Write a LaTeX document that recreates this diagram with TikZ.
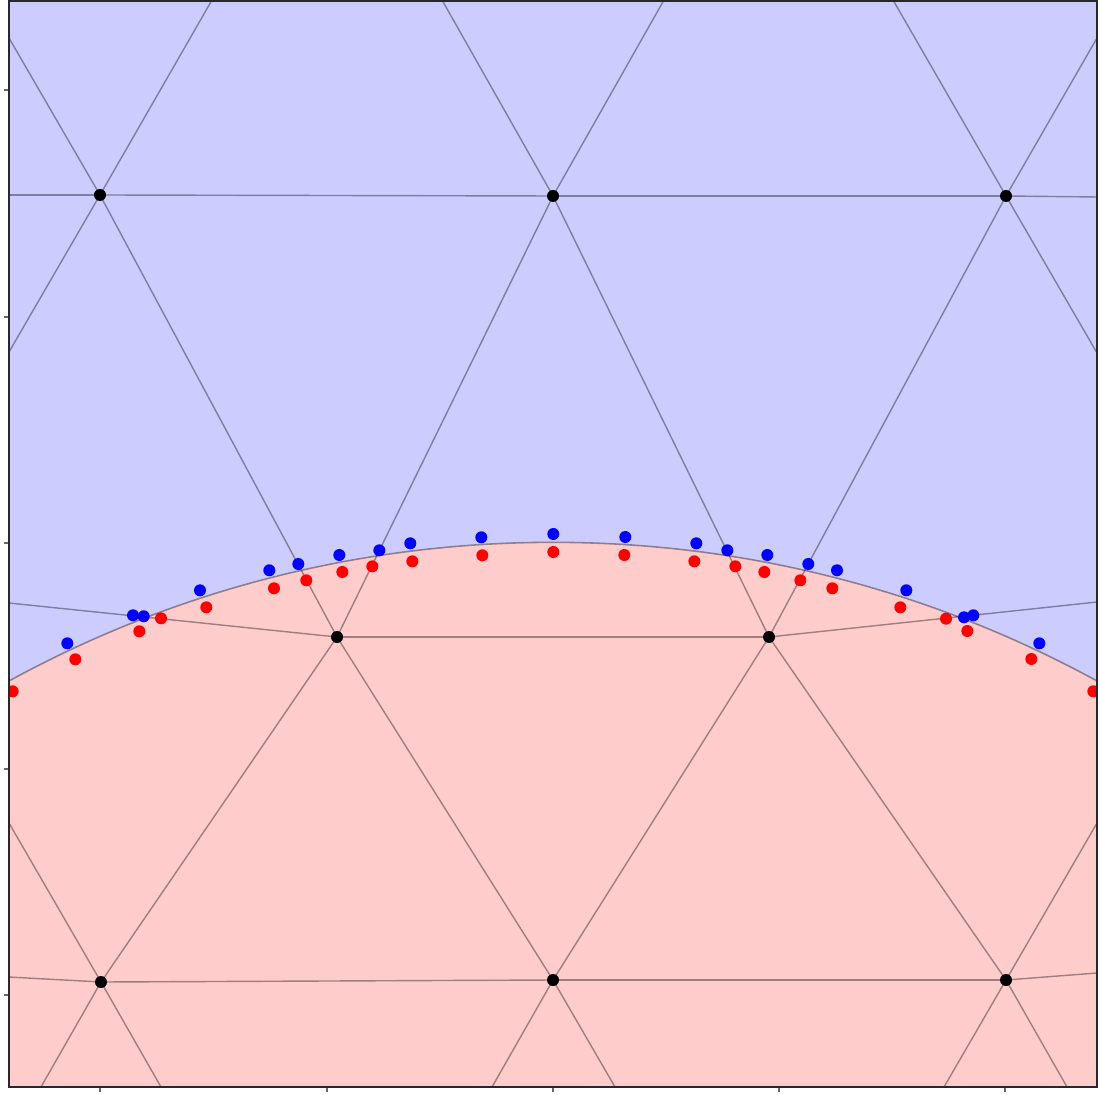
\documentclass[tikz,border=0pt]{standalone}
\definecolor{bluefill}{RGB}{204,204,255}
\definecolor{redfill}{RGB}{255,204,204}
\definecolor{framecol}{RGB}{40,40,40}
\tikzset{
  meshedge/.style={draw=black, draw opacity=0.38, line width=0.4pt},
  iface/.style={draw=black, draw opacity=0.38, line width=0.45pt},
  bdot/.style={circle, fill={rgb,255:red,0;green,0;blue,255}, inner sep=0pt, minimum size=0.12cm},
  rdot/.style={circle, fill={rgb,255:red,255;green,0;blue,0}, inner sep=0pt, minimum size=0.12cm},
  vtx/.style={circle, fill=black, inner sep=0pt, minimum size=0.12cm},
  tickmark/.style={draw=framecol, draw opacity=0.7, line width=0.35pt},
  frame/.style={draw=framecol, line width=0.6pt}
}
\begin{document}
\begin{tikzpicture}[x=0.01cm,y=-0.01cm]
\useasboundingbox (0,0) rectangle (1098,1095);
\coordinate (axTL) at (9,0.5);
\coordinate (axBR) at (1097,1087);
\begin{scope}
\clip (axTL) rectangle (axBR);
\fill[bluefill] (axTL) rectangle (axBR);
\fill[redfill] (553,1677) circle[radius=11.34cm];
\draw[iface] (553,1677) circle[radius=11.34cm];
% mesh vertices
\coordinate (A1) at (100,195);
\coordinate (A2) at (553,196);
\coordinate (A3) at (1006,196);
\coordinate (M1) at (337,637);
\coordinate (M2) at (769,637);
\coordinate (B1) at (101,982);
\coordinate (B2) at (553,980);
\coordinate (B3) at (1006,980);
% border ends
\coordinate (t1) at (212,0);
\coordinate (t2l) at (442,0);
\coordinate (t2r) at (664,0);
\coordinate (t3l) at (893,0);
\coordinate (l1u) at (9,38);
\coordinate (l1h) at (9,195);
\coordinate (l1d) at (9,352);
\coordinate (lm) at (9,603);
\coordinate (lb1u) at (9,823);
\coordinate (lb1h) at (9,977);
\coordinate (r3u) at (1097,38);
\coordinate (r3h) at (1097,197);
\coordinate (r3d) at (1097,353);
\coordinate (rm) at (1097,602);
\coordinate (rb3u) at (1097,823);
\coordinate (rb3h) at (1097,973);
\coordinate (bb1l) at (41,1087);
\coordinate (bb1r) at (161,1087);
\coordinate (bb2l) at (492,1087);
\coordinate (bb2r) at (615,1087);
\coordinate (bb3l) at (944,1087);
\coordinate (bb3r) at (1067,1087);
% mesh edges
\draw[meshedge] (A1) -- (t1);
\draw[meshedge] (A1) -- (l1u);
\draw[meshedge] (A1) -- (l1h);
\draw[meshedge] (A1) -- (l1d);
\draw[meshedge] (A1) -- (A2);
\draw[meshedge] (A1) -- (M1);
\draw[meshedge] (A2) -- (t2l);
\draw[meshedge] (A2) -- (t2r);
\draw[meshedge] (A2) -- (A3);
\draw[meshedge] (A2) -- (M1);
\draw[meshedge] (A2) -- (M2);
\draw[meshedge] (A3) -- (t3l);
\draw[meshedge] (A3) -- (r3u);
\draw[meshedge] (A3) -- (r3h);
\draw[meshedge] (A3) -- (r3d);
\draw[meshedge] (A3) -- (M2);
\draw[meshedge] (M1) -- (lm);
\draw[meshedge] (M1) -- (M2);
\draw[meshedge] (M1) -- (B1);
\draw[meshedge] (M1) -- (B2);
\draw[meshedge] (M2) -- (rm);
\draw[meshedge] (M2) -- (B2);
\draw[meshedge] (M2) -- (B3);
\draw[meshedge] (B1) -- (lb1u);
\draw[meshedge] (B1) -- (lb1h);
\draw[meshedge] (B1) -- (B2);
\draw[meshedge] (B1) -- (bb1l);
\draw[meshedge] (B1) -- (bb1r);
\draw[meshedge] (B2) -- (B3);
\draw[meshedge] (B2) -- (bb2l);
\draw[meshedge] (B2) -- (bb2r);
\draw[meshedge] (B3) -- (rb3u);
\draw[meshedge] (B3) -- (rb3h);
\draw[meshedge] (B3) -- (bb3l);
\draw[meshedge] (B3) -- (bb3r);
% blue points
\foreach \px/\py [count=\i] in {67.3/643.3, 133/615.3, 143.7/616.3, 200/590.3, 269.3/570.3, 298.3/564, 339.3/555, 379.3/550.3, 410.3/543.3, 481.3/537.3, 553.3/534, 625.3/537, 696.3/543.3, 727.3/550.3, 767.3/555, 808.3/564, 837/570.3, 906.3/590.3, 964/617.3, 973.3/615.3, 1039.3/643.3}
  \node[bdot] (b\i) at (\px,\py) {};
% red points
\foreach \px/\py [count=\i] in {12.7/691.3, 75.3/659.3, 139.3/631.3, 161/618.3, 206.3/607.3, 274/588.3, 306.3/580.3, 342.3/572, 372.3/566.3, 412.3/561.3, 482.3/555.3, 553.3/552, 624.3/555, 694.3/561.3, 735.3/566.3, 764.3/572, 800.3/580.3, 832.3/588.3, 900.3/607.3, 946/618.7, 967.3/631, 1031.3/659, 1093.3/691.3}
  \node[rdot] (r\i) at (\px,\py) {};
% mesh vertex markers
\foreach \v in {A1,A2,A3,M1,M2,B1,B2,B3}
  \node[vtx] (n\v) at (\v) {};
\end{scope}
% frame
\draw[frame] (axTL) rectangle (axBR);
% ticks
\foreach \ty [count=\i] in {90,317,543,769,995}
  \draw[tickmark] (4,\ty) coordinate (ytick\i) -- (9,\ty);
\foreach \tx [count=\i] in {100,327,553,779,1005}
  \draw[tickmark] (\tx,1087) coordinate (xtick\i) -- (\tx,1092);
\end{tikzpicture}
\end{document}
